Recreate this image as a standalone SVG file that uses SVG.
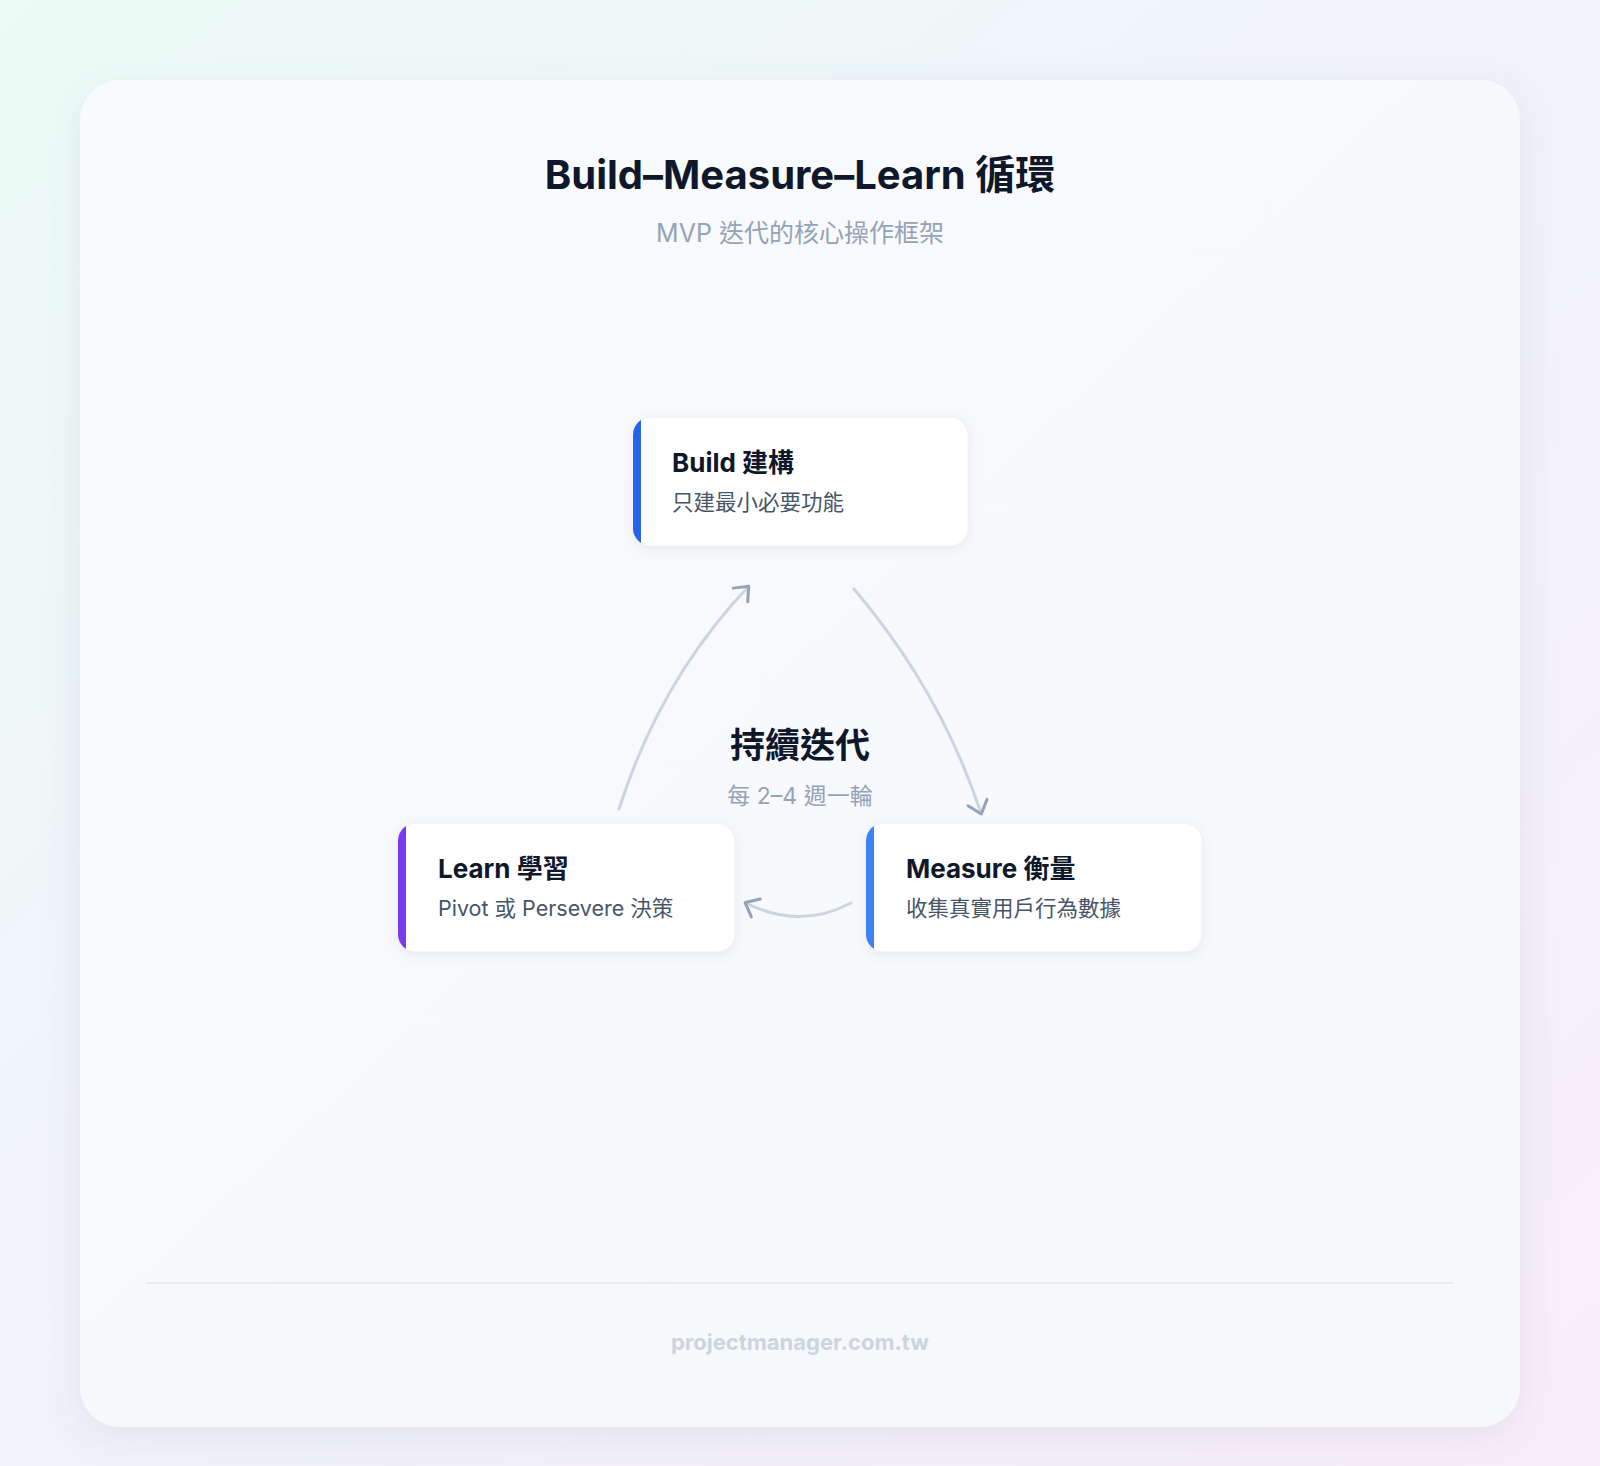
<svg xmlns="http://www.w3.org/2000/svg" width="1600" height="1466" viewBox="0 0 1600 1466">
<defs>
<linearGradient id="bg" x1="0" y1="0" x2="1" y2="1">
<stop offset="0" stop-color="#ecfbf6"/><stop offset="0.5" stop-color="#f1f3fa"/><stop offset="1" stop-color="#f8eefa"/>
</linearGradient>
<linearGradient id="card" x1="0" y1="0" x2="1" y2="1">
<stop offset="0" stop-color="#f9fafc"/><stop offset="1" stop-color="#f7f8fc"/>
</linearGradient>
<filter id="sh" x="-10%" y="-10%" width="120%" height="130%"><feDropShadow dx="0" dy="10" stdDeviation="18" flood-color="#64748b" flood-opacity="0.12"/></filter>
<filter id="nsh" x="-10%" y="-20%" width="120%" height="150%"><feDropShadow dx="0" dy="3" stdDeviation="5" flood-color="#64748b" flood-opacity="0.12"/></filter>
<marker id="ah" viewBox="0 0 26 26" refX="14" refY="13" markerWidth="26" markerHeight="26" markerUnits="userSpaceOnUse" orient="auto"><path d="M3,3 L15,13 L3,23" fill="none" stroke="#94a3b8" stroke-width="3" stroke-linecap="round" stroke-linejoin="round"/></marker>
<clipPath id="c1"><rect x="633" y="417" width="335" height="129" rx="18"/></clipPath>
<clipPath id="c2"><rect x="398" y="823" width="337" height="129" rx="18"/></clipPath>
<clipPath id="c3"><rect x="866" y="823" width="336" height="129" rx="18"/></clipPath>
</defs>
<style>
text{font-family:Inter,"Noto Sans","Noto Sans CJK TC",sans-serif}
.nt{font-size:26px;font-weight:700;fill:#0f172a}
.ns{font-size:21.5px;fill:#475569}
.conn path{fill:none;stroke:#cbd5e1;stroke-width:3;stroke-linecap:round}
</style>
<rect width="1600" height="1466" fill="url(#bg)"/>
<rect x="80" y="80" width="1440" height="1347" rx="40" fill="url(#card)" filter="url(#sh)"/>
<text x="800" y="189" text-anchor="middle" font-size="40" font-weight="700" fill="#0f172a">Build–Measure–Learn 循環</text>
<text x="800" y="242" text-anchor="middle" font-size="25" fill="#94a3b8">MVP 迭代的核心操作框架</text>
<g class="conn">
<path d="M619,809 Q660,680 748,587" marker-end="url(#ah)"/>
<path d="M854,589 Q940,690 981,813" marker-end="url(#ah)"/>
<path d="M851,903 Q800,930 746,903" marker-end="url(#ah)"/>
</g>
<g id="center">
<text x="800" y="758" text-anchor="middle" font-size="35" font-weight="700" fill="#0f172a">持續迭代</text>
<text x="800" y="804" text-anchor="middle" font-size="23" fill="#94a3b8">每 2–4 週一輪</text>
</g>
<g id="build">
<rect x="633" y="417" width="335" height="129" rx="18" fill="#fff" stroke="#eef0f4" filter="url(#nsh)"/>
<rect x="633" y="417" width="8" height="129" fill="#2563eb" clip-path="url(#c1)"/>
<text x="672" y="472" class="nt">Build 建構</text>
<text x="672" y="510" class="ns">只建最小必要功能</text>
</g>
<g id="learn">
<rect x="398" y="823" width="337" height="129" rx="18" fill="#fff" stroke="#eef0f4" filter="url(#nsh)"/>
<rect x="398" y="823" width="8" height="129" fill="#7c3aed" clip-path="url(#c2)"/>
<text x="438" y="878" class="nt">Learn 學習</text>
<text x="438" y="916" class="ns">Pivot 或 Persevere 決策</text>
</g>
<g id="measure">
<rect x="866" y="823" width="336" height="129" rx="18" fill="#fff" stroke="#eef0f4" filter="url(#nsh)"/>
<rect x="866" y="823" width="8" height="129" fill="#3b82f6" clip-path="url(#c3)"/>
<text x="906" y="878" class="nt">Measure 衡量</text>
<text x="906" y="916" class="ns">收集真實用戶行為數據</text>
</g>
<line x1="146" y1="1283" x2="1453" y2="1283" stroke="#e5e7eb" stroke-width="1.5"/>
<text x="800" y="1350" text-anchor="middle" font-size="22" font-weight="700" fill="#cbd5e1">projectmanager.com.tw</text>
</svg>
